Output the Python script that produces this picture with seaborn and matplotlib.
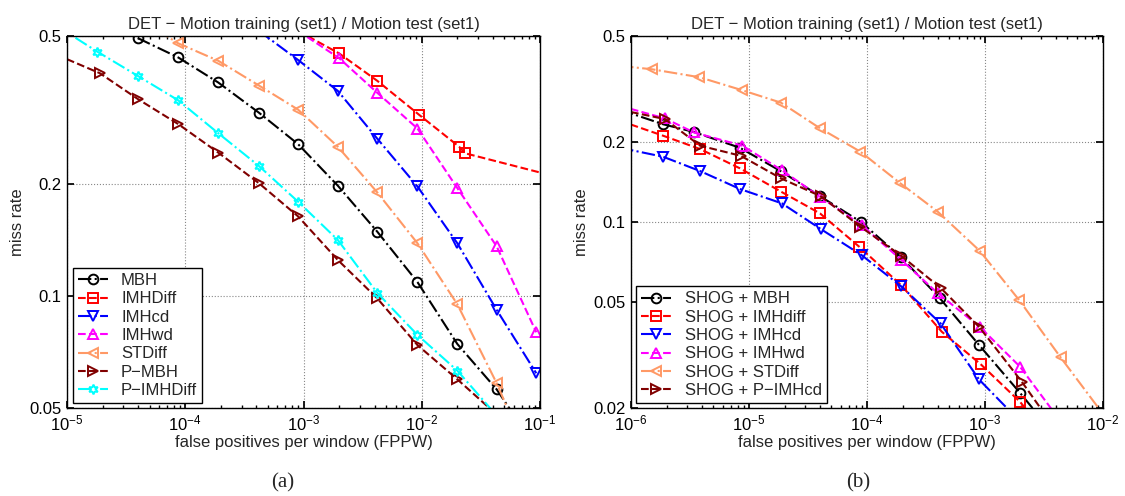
import matplotlib
matplotlib.use("Agg")
import matplotlib.pyplot as plt
import seaborn as sns
from matplotlib.ticker import LogLocator, FixedLocator, FixedFormatter, NullLocator

# ---- panel (a): Motion descriptors (first/last points lie just outside the axes, clipped)
a_mbh_x = [1.8e-5, 4.0e-5, 8.7e-5, 1.9e-4, 4.2e-4, 9.0e-4, 1.95e-3, 4.2e-3, 9.2e-3, 2.0e-2, 4.3e-2, 9.3e-2]
a_mbh_y = [0.55, 0.493, 0.438, 0.375, 0.311, 0.256, 0.198, 0.149, 0.109, 0.0743, 0.0561, 0.039]
a_imhdiff_x = [9.0e-4, 2.0e-3, 4.2e-3, 9.5e-3, 2.07e-2, 2.32e-2, 0.2]
a_imhdiff_y = [0.516, 0.449, 0.379, 0.307, 0.252, 0.242, 0.203]
a_imhcd_x = [4.2e-4, 9.0e-4, 1.95e-3, 4.2e-3, 9.2e-3, 2.0e-2, 4.3e-2, 9.3e-2]
a_imhcd_y = [0.516, 0.431, 0.356, 0.265, 0.197, 0.1386, 0.0918, 0.062]
a_imhwd_x = [9.0e-4, 2.0e-3, 4.2e-3, 9.2e-3, 2.0e-2, 4.3e-2, 9.3e-2]
a_imhwd_y = [0.516, 0.436, 0.352, 0.282, 0.195, 0.136, 0.0799]
a_stdiff_x = [4.0e-5, 8.7e-5, 1.9e-4, 4.2e-4, 9.0e-4, 1.95e-3, 4.2e-3, 9.2e-3, 2.0e-2, 4.3e-2, 9.3e-2]
a_stdiff_y = [0.559, 0.478, 0.429, 0.368, 0.317, 0.252, 0.19, 0.1386, 0.095, 0.0583, 0.033]
a_pmbh_x = [8.2e-6, 1.9e-5, 4.0e-5, 8.7e-5, 1.9e-4, 4.2e-4, 9.0e-4, 1.95e-3, 4.2e-3, 9.2e-3, 2.0e-2, 4.3e-2]
a_pmbh_y = [0.445, 0.397, 0.338, 0.29, 0.243, 0.201, 0.1637, 0.125, 0.0986, 0.0738, 0.0597, 0.048]
a_pimhdiff_x = [8.2e-6, 1.8e-5, 4.0e-5, 8.7e-5, 1.9e-4, 4.2e-4, 9.0e-4, 1.95e-3, 4.2e-3, 9.2e-3, 2.0e-2, 4.3e-2]
a_pimhdiff_y = [0.532, 0.454, 0.39, 0.336, 0.274, 0.2236, 0.1793, 0.1415, 0.102, 0.0786, 0.063, 0.0477]

# ---- panel (b): SHOG + motion descriptors
b_mbh_x = [8.1e-7, 1.87e-6, 3.4e-6, 8.4e-6, 1.87e-5, 4.0e-5, 8.9e-5, 1.94e-4, 4.16e-4, 8.9e-4, 1.98e-3, 4.3e-3]
b_mbh_y = [0.264, 0.233, 0.218, 0.190, 0.155, 0.125, 0.100, 0.0738, 0.0516, 0.0345, 0.0228, 0.015]
b_imhdiff_x = [8.1e-7, 1.87e-6, 3.85e-6, 8.4e-6, 1.87e-5, 4.0e-5, 8.6e-5, 1.94e-4, 4.3e-4, 9.2e-4, 1.98e-3, 4.3e-3]
b_imhdiff_y = [0.24, 0.211, 0.188, 0.159, 0.130, 0.1077, 0.0807, 0.058, 0.0387, 0.0292, 0.0211, 0.0139]
b_imhcd_x = [8.1e-7, 1.87e-6, 3.85e-6, 8.4e-6, 1.9e-5, 4.1e-5, 9.0e-5, 1.94e-4, 4.2e-4, 8.9e-4, 1.98e-3]
b_imhcd_y = [0.19, 0.1759, 0.1554, 0.133, 0.1175, 0.0938, 0.0751, 0.0574, 0.0416, 0.0256, 0.0178]
b_imhwd_x = [8.1e-7, 1.94e-6, 3.42e-6, 8.8e-6, 1.89e-5, 4.0e-5, 9.0e-5, 1.96e-4, 4.0e-4, 9.0e-4, 1.98e-3, 4.3e-3]
b_imhwd_y = [0.273, 0.245, 0.217, 0.1935, 0.1567, 0.1244, 0.0974, 0.0719, 0.0539, 0.0404, 0.0286, 0.018]
b_stdiff_x = [8.1e-7, 1.5e-6, 3.8e-6, 8.7e-6, 1.86e-5, 4.0e-5, 8.8e-5, 1.92e-4, 3.98e-4, 9.0e-4, 1.96e-3, 4.37e-3, 2.0e-2]
b_stdiff_y = [0.386, 0.375, 0.35, 0.313, 0.281, 0.225, 0.1837, 0.1397, 0.1093, 0.078, 0.0507, 0.031, 0.0126]
b_pimhcd_x = [8.1e-7, 1.94e-6, 3.85e-6, 8.5e-6, 1.86e-5, 4.05e-5, 8.8e-5, 1.96e-4, 4.25e-4, 8.9e-4, 2.05e-3, 4.3e-3]
b_pimhcd_y = [0.264, 0.2437, 0.1935, 0.1774, 0.146, 0.125, 0.096, 0.0745, 0.0563, 0.0404, 0.0251, 0.0158]

TITLE = "DET \u2212 Motion training (set1) / Motion test (set1)"
ORANGE = "#ff9966"
DARKRED = "#800000"
HEXAGRAM = (6, 1, 0)


def setup_plot_style():
    sns.set_theme(style="ticks")
    plt.rcParams.update(
        {
            "font.family": ["Liberation Sans", "DejaVu Sans"],
            "mathtext.fontset": "custom",
            "mathtext.rm": "Liberation Sans",
            "mathtext.it": "Liberation Sans",
            "font.size": 12,
            "axes.edgecolor": "black",
            "axes.linewidth": 1.0,
            "xtick.color": "black",
            "ytick.color": "black",
        }
    )


def draw(ax, xs, ys, label, color, marker, ls):
    sns.lineplot(
        x=xs, y=ys, ax=ax, label=label, color=color, sort=False, estimator=None,
        linestyle=ls, linewidth=1.5, marker=marker, markersize=7,
        markerfacecolor="none", markeredgecolor=color, markeredgewidth=1.4,
    )


def style_axes(ax, xlim, yticks):
    ax.set_xscale("log")
    ax.set_yscale("log")
    ax.set_xlim(*xlim)
    ax.set_ylim(yticks[0], yticks[-1])
    ax.xaxis.set_major_locator(LogLocator(base=10, numticks=10))
    ax.xaxis.set_minor_locator(LogLocator(base=10, subs=range(2, 10), numticks=20))
    ax.yaxis.set_major_locator(FixedLocator(yticks))
    ax.yaxis.set_major_formatter(FixedFormatter([f"{v:g}" for v in yticks]))
    ax.yaxis.set_minor_locator(NullLocator())
    ax.tick_params(which="both", direction="in", top=True, right=True, labelsize=12)
    ax.tick_params(which="major", length=5, pad=4)
    ax.tick_params(which="minor", length=2.5)
    ax.grid(True, which="major", linestyle=":", color="#888888", linewidth=0.8)
    ax.set_title(TITLE, fontsize=12, pad=5)
    ax.set_xlabel("false positives per window (FPPW)", fontsize=12, labelpad=1)
    ax.set_ylabel("miss rate", fontsize=12, labelpad=3)


def legend(ax, anchor):
    leg = ax.legend(
        loc="lower left", bbox_to_anchor=anchor, borderaxespad=0, fontsize=12,
        frameon=True, fancybox=False, framealpha=1, edgecolor="black",
        labelspacing=0.2, handlelength=1.8, handletextpad=0.8, borderpad=0.3,
    )
    leg.get_frame().set_linewidth(1.0)


setup_plot_style()
fig = plt.figure(figsize=(11.25, 4.96), dpi=100)
ax_a = fig.add_axes([67 / 1125, 88 / 496, 473 / 1125, 372 / 496])
ax_b = fig.add_axes([631 / 1125, 88 / 496, 472 / 1125, 372 / 496])
ax_a.set_xscale("log")
ax_a.set_yscale("log")
ax_b.set_xscale("log")
ax_b.set_yscale("log")

draw(ax_a, a_mbh_x, a_mbh_y, "MBH", "black", "o", "-.")
draw(ax_a, a_imhdiff_x, a_imhdiff_y, "IMHDiff", "red", "s", "--")
draw(ax_a, a_imhcd_x, a_imhcd_y, "IMHcd", "blue", "v", "-.")
draw(ax_a, a_imhwd_x, a_imhwd_y, "IMHwd", "magenta", "^", "--")
draw(ax_a, a_stdiff_x, a_stdiff_y, "STDiff", ORANGE, "<", "-.")
draw(ax_a, a_pmbh_x, a_pmbh_y, "P\u2212MBH", DARKRED, ">", "--")
draw(ax_a, a_pimhdiff_x, a_pimhdiff_y, "P\u2212IMHDiff", "cyan", HEXAGRAM, "-.")
style_axes(ax_a, (1e-5, 1e-1), [0.05, 0.1, 0.2, 0.5])
legend(ax_a, (0.012, 0.013))

draw(ax_b, b_mbh_x, b_mbh_y, "SHOG + MBH", "black", "o", "-.")
draw(ax_b, b_imhdiff_x, b_imhdiff_y, "SHOG + IMHdiff", "red", "s", "--")
draw(ax_b, b_imhcd_x, b_imhcd_y, "SHOG + IMHcd", "blue", "v", "-.")
draw(ax_b, b_imhwd_x, b_imhwd_y, "SHOG + IMHwd", "magenta", "^", "--")
draw(ax_b, b_stdiff_x, b_stdiff_y, "SHOG + STDiff", ORANGE, "<", "-.")
draw(ax_b, b_pimhcd_x, b_pimhcd_y, "SHOG + P\u2212IMHcd", DARKRED, ">", "--")
style_axes(ax_b, (1e-6, 1e-2), [0.02, 0.05, 0.1, 0.2, 0.5])
legend(ax_b, (0.011, 0.013))

fig.text(283 / 1125, 1 - 483 / 496, "(a)", ha="center", va="center", fontsize=15, family=["Liberation Serif", "DejaVu Serif"])
fig.text(858 / 1125, 1 - 483 / 496, "(b)", ha="center", va="center", fontsize=15, family=["Liberation Serif", "DejaVu Serif"])

fig.savefig("out.png", dpi=100)
plt.close(fig)
